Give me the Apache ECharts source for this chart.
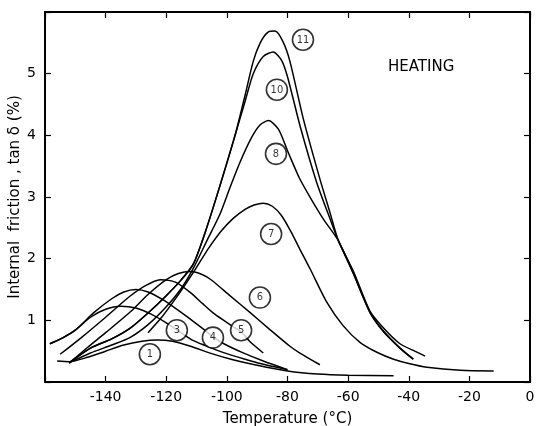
<!DOCTYPE html>
<html><head><meta charset="utf-8">
<script src="https://cdn.jsdelivr.net/npm/echarts@6/dist/echarts.min.js"></script>
<style>html,body{margin:0;padding:0;background:#fff}#c{width:537px;height:426px}</style>
</head><body><div id="c"></div>
<script>
// Temperature ticks and axis ranges
const xTicks = [-160, -140, -120, -100, -80, -60, -40, -20, 0];
const yTicks = [0, 1, 2, 3, 4, 5, 6];

// Curves: [temperature °C, tan δ %]
const curve1 = [[-156,0.34],[-152,0.33],[-146,0.4],[-140,0.5],[-134,0.6],[-128,0.66],[-123,0.68],[-118,0.66],[-112,0.58],[-105,0.46],[-98,0.36],[-90,0.27],[-80,0.18],[-70,0.13],[-60,0.11],[-45,0.1]];
const curve3 = [[-158.4,0.62],[-154,0.72],[-150,0.84],[-145,1.05],[-140,1.18],[-135,1.23],[-130,1.2],[-125,1.1],[-120,0.96],[-116,0.83],[-111,0.67],[-105,0.55],[-100,0.46],[-94,0.37],[-89,0.3],[-80,0.2]];
const curve4 = [[-158.4,0.62],[-154,0.72],[-150,0.84],[-144,1.12],[-138,1.35],[-134,1.46],[-130,1.5],[-126,1.46],[-121,1.33],[-116,1.16],[-111,0.98],[-107,0.83],[-104.6,0.73],[-101,0.62],[-95,0.48],[-88,0.34],[-80,0.2]];
const curve5 = [[-155,0.45],[-148,0.72],[-140,1.05],[-132,1.39],[-127,1.56],[-122,1.66],[-117,1.62],[-112,1.45],[-108,1.27],[-104,1.1],[-98,0.9],[-95,0.8],[-92.5,0.66],[-88,0.47]];
const curve6 = [[-152,0.31],[-146,0.56],[-140,0.8],[-132,1.13],[-126,1.42],[-120,1.66],[-116,1.76],[-112,1.79],[-108,1.74],[-105,1.65],[-99,1.4],[-92.4,1.13],[-85.8,0.85],[-79.2,0.58],[-75.9,0.47],[-69.3,0.28]];
const curve7 = [[-126,0.8],[-122,1.02],[-118,1.28],[-114,1.56],[-110,1.86],[-106,2.17],[-102,2.44],[-98,2.65],[-94,2.8],[-91,2.87],[-88,2.9],[-85,2.85],[-82,2.7],[-79,2.45],[-76,2.16],[-72.6,1.84],[-67,1.29],[-61.6,0.91],[-56,0.64],[-50,0.47],[-45,0.37],[-40,0.3],[-34,0.24],[-23,0.19],[-12,0.18]];
const curve8 = [[-152,0.31],[-145,0.47],[-138,0.6],[-132,0.72],[-126,0.93],[-120,1.22],[-115,1.52],[-111,1.85],[-106.5,2.3],[-102.3,2.72],[-99,3.15],[-95.7,3.56],[-92,3.95],[-89,4.17],[-86.3,4.24],[-83,4.1],[-80,3.75],[-76,3.3],[-72,2.95],[-68,2.63],[-63.2,2.29],[-58.3,1.77],[-52.8,1.13],[-48.4,0.83],[-42.9,0.55],[-38.5,0.37]];
const curve10 = [[-152,0.31],[-145,0.55],[-138,0.7],[-132,0.87],[-126,1.12],[-120,1.4],[-115,1.66],[-111,1.92],[-107,2.45],[-102.3,3.18],[-97.3,4.0],[-94,4.55],[-91.3,5.0],[-88,5.28],[-84.7,5.35],[-82,5.22],[-80,4.95],[-75.9,4.16],[-70.4,3.24],[-66,2.65],[-63.2,2.29],[-58.3,1.76],[-52.8,1.13],[-48.4,0.82],[-42.9,0.55],[-38.5,0.37]];
const curve11 = [[-152,0.31],[-145,0.55],[-138,0.7],[-132,0.87],[-126,1.12],[-120,1.4],[-115,1.66],[-111,1.92],[-107,2.45],[-102.3,3.18],[-97.3,4.0],[-94,4.65],[-91.3,5.2],[-89,5.5],[-86.5,5.67],[-84.1,5.69],[-81.5,5.52],[-79.2,5.2],[-74.8,4.27],[-69.3,3.29],[-66,2.75],[-63.2,2.29],[-58.3,1.8],[-52.8,1.15],[-48.4,0.88],[-42.9,0.62],[-38,0.5],[-34.6,0.42]];

// Curve number labels: [temperature, tan δ, number]
const curveLabels = [[-125.4,0.45,'1'],[-116.5,0.84,'3'],[-104.6,0.72,'4'],[-95.3,0.84,'5'],[-89.1,1.37,'6'],[-85.4,2.40,'7'],[-83.8,3.70,'8'],[-83.5,4.74,'10'],[-74.9,5.55,'11']];

const curves = [curve1, curve3, curve4, curve5, curve6, curve7, curve8, curve10, curve11];

const FONT = 'DejaVu Sans';
const chart = echarts.init(document.getElementById('c'), null, {renderer: 'canvas'});
const axisLine = {show: true, onZero: false, lineStyle: {color: '#000', width: 2}};
const tickIn = {show: true, inside: true, length: 6, lineStyle: {color: '#000', width: 1.2}};

const series = curves.map(c => ({
  type: 'line', data: c, smooth: 0.25, symbol: 'none',
  lineStyle: {color: '#000', width: 1.5}, z: 2, silent: true
}));
series.push({
  type: 'scatter', data: curveLabels, symbol: 'circle', symbolSize: 21, z: 5,
  itemStyle: {color: '#fff', borderColor: '#000', borderWidth: 1.6},
  label: {show: true, position: 'inside', formatter: p => p.data[2], color: '#000',
    fontSize: 11, fontFamily: 'Liberation Sans Narrow, DejaVu Sans Condensed'}
});

chart.setOption({
  backgroundColor: '#fff',
  animation: false,
  grid: {left: 45, right: 7, top: 12, bottom: 44, containLabel: false, outerBoundsMode: 'none'},
  xAxis: [{
    type: 'value', min: -160, max: 0, interval: 20,
    axisLine, axisTick: tickIn, splitLine: {show: false},
    axisLabel: {color: '#000', fontSize: 14, fontFamily: FONT, margin: 8,
      formatter: v => (v === -160 ? '' : (v < 0 ? '-' + Math.abs(v) : String(v)))},
    name: 'Temperature (°C)', nameLocation: 'middle', nameGap: 30, nameMoveOverlap: false,
    nameTextStyle: {color: '#000', fontSize: 15, fontFamily: FONT}
  }, {
    type: 'value', min: -160, max: 0, interval: 20, position: 'top',
    axisLine, axisTick: tickIn, axisLabel: {show: false}, splitLine: {show: false}
  }],
  yAxis: [{
    type: 'value', min: 0, max: 6, interval: 1,
    axisLine, axisTick: tickIn, splitLine: {show: false},
    axisLabel: {color: '#000', fontSize: 14, fontFamily: FONT, margin: 9,
      formatter: v => (v === 0 || v === 6 ? '' : String(v))},
    name: 'Internal  friction , tan δ (%)', nameLocation: 'middle', nameGap: 22, nameRotate: 90,
    nameMoveOverlap: false,
    nameTextStyle: {color: '#000', fontSize: 15, fontFamily: FONT}
  }, {
    type: 'value', min: 0, max: 6, interval: 1, position: 'right',
    axisLine, axisTick: tickIn, axisLabel: {show: false}, splitLine: {show: false}
  }],
  graphic: [{
    type: 'text', left: 388, top: 60,
    style: {text: 'HEATING', fill: '#000', font: '15px DejaVu Sans'}
  }],
  series
});
</script></body></html>
